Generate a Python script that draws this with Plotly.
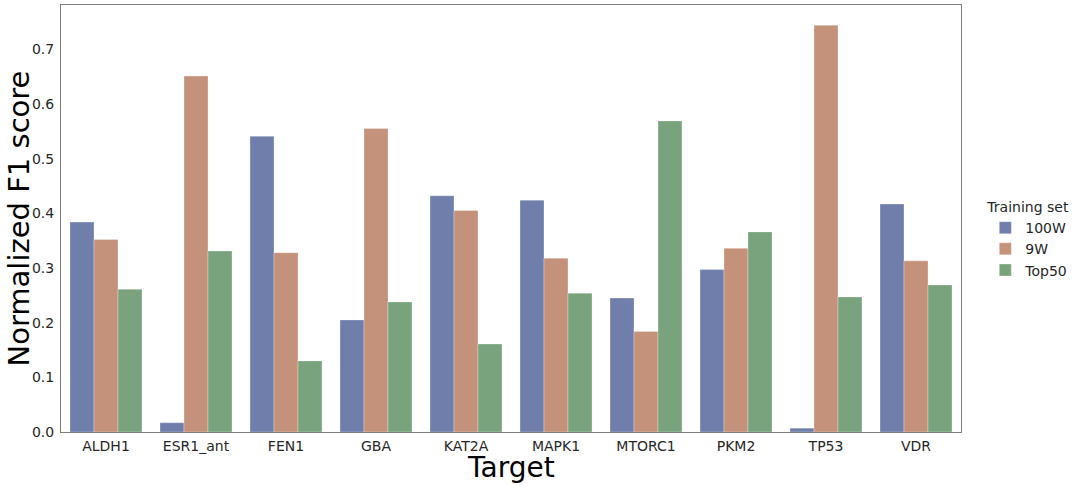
import plotly.graph_objects as go

# Values
targets = ['ALDH1', 'ESR1_ant', 'FEN1', 'GBA', 'KAT2A', 'MAPK1', 'MTORC1', 'PKM2', 'TP53', 'VDR']
f1_100w = [0.384, 0.017, 0.541, 0.205, 0.432, 0.424, 0.245, 0.297, 0.007, 0.417]
f1_9w = [0.352, 0.651, 0.328, 0.555, 0.405, 0.318, 0.184, 0.336, 0.744, 0.313]
f1_top50 = [0.261, 0.331, 0.130, 0.238, 0.161, 0.254, 0.569, 0.366, 0.247, 0.269]

series = [
    ('100W', f1_100w, '#6f7eab'),
    ('9W', f1_9w, '#c4927a'),
    ('Top50', f1_top50, '#78a37d'),
]

FONT = 'DejaVu Sans'

fig = go.Figure()
for name, vals, color in series:
    fig.add_trace(go.Bar(
        x=targets,
        y=vals,
        name=name,
        marker=dict(color=color, line=dict(color='rgba(255,255,255,0.6)', width=0.5)),
    ))

fig.update_layout(
    width=1080,
    height=485,
    barmode='group',
    bargap=0.2,
    bargroupgap=0,
    plot_bgcolor='white',
    paper_bgcolor='white',
    margin=dict(l=61, r=119, t=5, b=53, autoexpand=False),
    font=dict(family=FONT, size=14, color='#262626'),
    xaxis=dict(
        range=[-0.5, 9.5],
        showline=True, linecolor='#7f7f7f', linewidth=1, mirror=True,
        ticks='', ticklabelstandoff=1,
        tickfont=dict(size=14, color='#262626'),
        showgrid=False, automargin=False,
    ),
    yaxis=dict(
        range=[0, 0.781],
        tickvals=[0, 0.1, 0.2, 0.3, 0.4, 0.5, 0.6, 0.7],
        ticktext=['0.0', '0.1', '0.2', '0.3', '0.4', '0.5', '0.6', '0.7'],
        showline=True, linecolor='#7f7f7f', linewidth=1, mirror=True,
        ticks='', ticklabelstandoff=3,
        tickfont=dict(size=14, color='#262626'),
        showgrid=False, zeroline=False, automargin=False,
    ),
    legend=dict(
        title=dict(text='Training set', font=dict(size=14)),
        font=dict(size=14),
        x=1.027, xanchor='left',
        y=0.45, yanchor='middle',
        bgcolor='rgba(0,0,0,0)',
        itemwidth=30,
        tracegroupgap=0,
    ),
    showlegend=True,
)

fig.add_annotation(
    text='Normalized F1 score', xref='paper', yref='paper',
    x=0, y=0.5, xanchor='center', yanchor='middle', xshift=-43,
    textangle=-90, showarrow=False, font=dict(size=29, color='black', family=FONT),
)
fig.add_annotation(
    text='Target', xref='paper', yref='paper',
    x=0.5, y=0, xanchor='center', yanchor='middle', yshift=-35,
    showarrow=False, font=dict(size=28, color='black', family=FONT),
)

# drop the browser's default body margin so the figure sits at the window's corner
fig.write_html('out.html', config={'displayModeBar': False},
               post_script="document.body.style.margin='0';")
